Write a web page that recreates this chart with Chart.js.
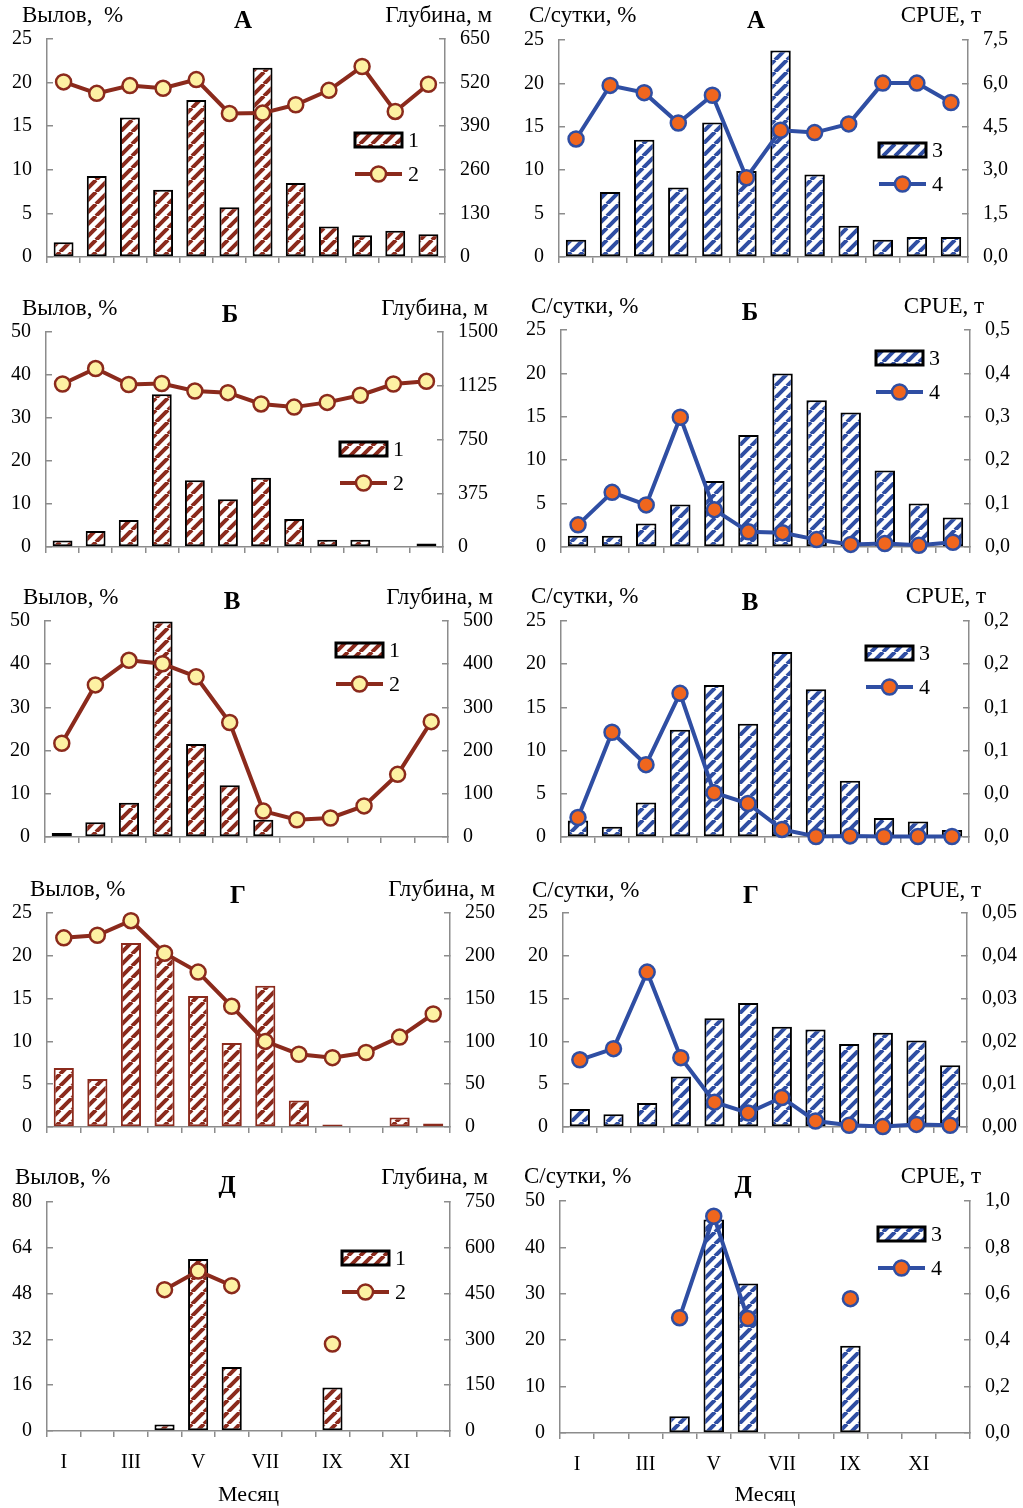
<!DOCTYPE html>
<html>
<head>
<meta charset="utf-8">
<script src="https://cdn.jsdelivr.net/npm/chart.js@4.4.1/dist/chart.umd.min.js"></script>
<style>
  body { margin: 0; background: #fff; }
  #wrap { position: relative; width: 1023px; height: 1508px; }
  #wrap canvas { position: absolute; }
</style>
</head>
<body>
<div id="wrap"></div>
<script>
const months = ['I', 'II', 'III', 'IV', 'V', 'VI', 'VII', 'VIII', 'IX', 'X', 'XI', 'XII'];

// А
const catchA = [1.7, 9.3, 16.0, 7.7, 18.0, 5.7, 21.7, 8.5, 3.5, 2.5, 3.0, 2.6];
const depthA = [522, 488, 511, 503, 529, 428, 429, 454, 497, 568, 434, 515];
const dailyA = [2.0, 7.5, 13.5, 8.0, 15.5, 9.9, 23.8, 9.5, 3.6, 2.0, 2.3, 2.3];
const cpueA = [4.08, 5.93, 5.68, 4.63, 5.59, 2.74, 4.38, 4.30, 4.60, 6.01, 6.01, 5.34];

// Б
const catchB = [1.5, 3.7, 6.3, 35.5, 15.5, 11.1, 16.1, 6.5, 1.7, 1.7, 0.2, 0.8];
const depthB = [1137, 1245, 1134, 1141, 1088, 1077, 998, 976, 1009, 1059, 1137, 1156];
const dailyB = [1.3, 1.3, 2.7, 4.9, 7.6, 12.9, 20.0, 16.9, 15.5, 8.8, 5.0, 3.4];
const cpueB = [0.051, 0.126, 0.097, 0.299, 0.086, 0.035, 0.033, 0.017, 0.006, 0.008, 0.004, 0.011];

// В
const catchV = [0.9, 3.4, 7.9, 49.9, 21.5, 12.0, 4.0, null, 0.2, null, null, null];
const depthV = [217, 352, 409, 401, 371, 265, 60, 40, 44, 72, 145, 267];
const dailyV = [1.9, 1.2, 4.0, 12.4, 17.6, 13.1, 21.4, 17.1, 6.5, 2.2, 1.8, 0.8];
const cpueV = [0.018, 0.097, 0.067, 0.133, 0.041, 0.031, 0.007, 0.0005, 0.001, 0.0005, 0.0005, 0.0005];

// Г
const catchG = [6.9, 5.6, 21.5, 19.9, 15.3, 9.8, 16.5, 3.1, 0.3, 0.1, 1.1, 0.4];
const depthG = [221, 224, 241, 203, 181, 141, 100, 85, 81, 87, 105, 132];
const dailyG = [2.1, 1.5, 2.8, 5.9, 12.7, 14.5, 11.7, 11.4, 9.7, 11.0, 10.1, 7.2];
const cpueG = [0.0157, 0.0183, 0.0362, 0.0162, 0.0058, 0.0033, 0.0069, 0.0014, 0.0004, 0.0001, 0.0006, 0.0004];

// Д
const catchD = [null, null, null, 2.3, 60.1, 22.4, null, null, 15.2, null, null, null];
const depthD = [null, null, null, 463, 524, 476, null, null, 285, null, null, null];
const dailyD = [null, null, null, 3.6, 46.0, 32.2, null, null, 18.8, null, null, null];
const cpueD = [null, null, null, 0.497, 0.934, 0.493, null, null, 0.579, null, null, null];

const DARK_RED = '#8b2a1c';
const BLUE = '#2f4ea3';
const YELLOW = '#fdf1a3';
const ORANGE = '#f0661e';
const AXIS = '#8c8c8c';
const FONT = "'Liberation Serif', 'DejaVu Serif', serif";

// pixel boxes: canvas [x, y, w, h], plot area [left, top, right, bottom]
const panels = [
  { kind: 'depth', canvas: [0, 0, 511, 290], area: [47, 39, 445, 266], letter: 'А', lt: 'Вылов,  %', rt: 'Глубина, м',
    ltPos: [22, 16], rtPos: [492, 16], letPos: [243, 22], bars: catchA, line: depthA,
    yMax: 25, yStep: 5, y1Max: 650, y1Step: 130, y1Dec: 0, legend: [355, 140], names: ['1', '2'], barBorder: '#000' },
  { kind: 'cpue', canvas: [511, 0, 512, 290], area: [559, 40, 968, 267], letter: 'А', lt: 'С/сутки, %', rt: 'CPUE, т',
    ltPos: [529, 16], rtPos: [981, 16], letPos: [756, 22], bars: dailyA, line: cpueA,
    yMax: 25, yStep: 5, y1Max: 7.5, y1Step: 1.5, y1Dec: 1, legend: [879, 150], names: ['3', '4'], barBorder: '#000' },

  { kind: 'depth', canvas: [0, 290, 511, 290], area: [46, 332, 443, 559], letter: 'Б', lt: 'Вылов, %', rt: 'Глубина, м',
    ltPos: [22, 309], rtPos: [488, 309], letPos: [230, 316], bars: catchB, line: depthB,
    yMax: 50, yStep: 10, y1Max: 1500, y1Step: 375, y1Dec: 0, legend: [340, 449], names: ['1', '2'], barBorder: '#000' },
  { kind: 'cpue', canvas: [511, 290, 512, 290], area: [561, 330, 970, 559], letter: 'Б', lt: 'С/сутки, %', rt: 'CPUE, т',
    ltPos: [531, 307], rtPos: [984, 307], letPos: [750, 314], bars: dailyB, line: cpueB,
    yMax: 25, yStep: 5, y1Max: 0.5, y1Step: 0.1, y1Dec: 1, legend: [876, 358], names: ['3', '4'], barBorder: '#000' },

  { kind: 'depth', canvas: [0, 580, 511, 290], area: [45, 621, 448, 850], letter: 'В', lt: 'Вылов, %', rt: 'Глубина, м',
    ltPos: [23, 598], rtPos: [493, 598], letPos: [232, 603], bars: catchV, line: depthV,
    yMax: 50, yStep: 10, y1Max: 500, y1Step: 100, y1Dec: 0, legend: [336, 650], names: ['1', '2'], barBorder: '#000' },
  { kind: 'cpue', canvas: [511, 580, 512, 290], area: [561, 621, 969, 852], letter: 'В', lt: 'С/сутки, %', rt: 'CPUE, т',
    ltPos: [531, 597], rtPos: [986, 597], letPos: [750, 604], bars: dailyV, line: cpueV,
    yMax: 25, yStep: 5, y1Max: 0.2, y1Step: 0.04, y1Dec: 1, legend: [866, 653], names: ['3', '4'], barBorder: '#000' },

  { kind: 'depth', canvas: [0, 870, 511, 290], area: [47, 913, 450, 1141], letter: 'Г', lt: 'Вылов, %', rt: 'Глубина, м',
    ltPos: [30, 890], rtPos: [495, 890], letPos: [238, 897], bars: catchG, line: depthG,
    yMax: 25, yStep: 5, y1Max: 250, y1Step: 50, y1Dec: 0, legend: null, names: ['1', '2'], barBorder: DARK_RED },
  { kind: 'cpue', canvas: [511, 870, 512, 290], area: [563, 913, 967, 1143], letter: 'Г', lt: 'С/сутки, %', rt: 'CPUE, т',
    ltPos: [532, 891], rtPos: [981, 891], letPos: [751, 897], bars: dailyG, line: cpueG,
    yMax: 25, yStep: 5, y1Max: 0.05, y1Step: 0.01, y1Dec: 2, legend: null, names: ['3', '4'], barBorder: '#000' },

  { kind: 'depth', canvas: [0, 1160, 511, 348], area: [47, 1202, 450, 1431], letter: 'Д', lt: 'Вылов, %', rt: 'Глубина, м',
    ltPos: [15, 1178], rtPos: [488, 1178], letPos: [227, 1187], bars: catchD, line: depthD,
    yMax: 80, yStep: 16, y1Max: 750, y1Step: 150, y1Dec: 0, legend: [342, 1258], names: ['1', '2'], barBorder: '#000', xLabels: true },
  { kind: 'cpue', canvas: [511, 1160, 512, 348], area: [560, 1201, 970, 1433], letter: 'Д', lt: 'С/сутки, %', rt: 'CPUE, т',
    ltPos: [524, 1177], rtPos: [981, 1177], letPos: [743, 1187], bars: dailyD, line: cpueD,
    yMax: 50, yStep: 10, y1Max: 1.0, y1Step: 0.2, y1Dec: 1, legend: [878, 1234], names: ['3', '4'], barBorder: '#000', xLabels: true }
];

function stripePattern(color) {
  // белый фон с косой штриховкой
  const size = 12;
  const c = document.createElement('canvas');
  c.width = size; c.height = size;
  const g = c.getContext('2d');
  g.fillStyle = '#fff';
  g.fillRect(0, 0, size, size);
  g.strokeStyle = color;
  g.lineWidth = 4;
  g.beginPath();
  for (let k = -1; k <= 1; k++) {
    g.moveTo(k * size, size);
    g.lineTo(k * size + size, 0);
  }
  g.stroke();
  return g.createPattern(c, 'repeat');
}

const wrap = document.getElementById('wrap');

function makeChart(p) {
  const [cx, cy, cw, ch] = p.canvas;
  const [l, t, r, b] = p.area;
  const cv = document.createElement('canvas');
  cv.width = cw; cv.height = ch;
  cv.style.left = cx + 'px';
  cv.style.top = cy + 'px';
  wrap.appendChild(cv);

  const main = p.kind === 'depth' ? DARK_RED : BLUE;
  const ptFill = p.kind === 'depth' ? YELLOW : ORANGE;
  const fill = stripePattern(main);
  const showX = !!p.xLabels;
  const tickFont = { family: FONT, size: 20 };

  const deco = {
    id: 'deco',
    afterDraw(chart) {
      const ctx = chart.ctx;
      ctx.save();
      ctx.fillStyle = '#000';
      ctx.textBaseline = 'middle';
      ctx.font = '23px ' + FONT;
      ctx.textAlign = 'left';
      ctx.fillText(p.lt, p.ltPos[0] - cx, p.ltPos[1] - cy);
      ctx.textAlign = 'right';
      ctx.fillText(p.rt, p.rtPos[0] - cx, p.rtPos[1] - cy);
      ctx.textAlign = 'center';
      ctx.font = 'bold 25px ' + FONT;
      ctx.fillText(p.letter, p.letPos[0] - cx, p.letPos[1] - cy);

      if (p.legend) {
        const lx = p.legend[0] - cx;
        const ly = p.legend[1] - cy;
        const ly2 = ly + 34;
        ctx.fillStyle = fill;
        ctx.fillRect(lx, ly - 7, 47, 14);
        ctx.strokeStyle = '#000';
        ctx.lineWidth = 3;
        ctx.strokeRect(lx, ly - 7, 47, 14);

        ctx.strokeStyle = main;
        ctx.lineWidth = 4;
        ctx.beginPath();
        ctx.moveTo(lx, ly2);
        ctx.lineTo(lx + 47, ly2);
        ctx.stroke();
        ctx.beginPath();
        ctx.arc(lx + 23.5, ly2, 7.5, 0, Math.PI * 2);
        ctx.fillStyle = ptFill;
        ctx.fill();
        ctx.lineWidth = 2.5;
        ctx.stroke();

        ctx.fillStyle = '#000';
        ctx.font = '22px ' + FONT;
        ctx.textAlign = 'left';
        ctx.fillText(p.names[0], lx + 53, ly + 1);
        ctx.fillText(p.names[1], lx + 53, ly2 + 1);
      }
      ctx.restore();
    }
  };

  return new Chart(cv, {
    type: 'bar',
    data: {
      labels: months,
      datasets: [
        {
          type: 'line',
          data: p.line,
          yAxisID: 'y1',
          borderColor: main,
          borderWidth: 4,
          pointRadius: 7.5,
          pointBorderWidth: 2.5,
          pointBackgroundColor: ptFill,
          pointBorderColor: main,
          tension: 0,
          clip: false,
          order: 0
        },
        {
          type: 'bar',
          data: p.bars,
          yAxisID: 'y',
          backgroundColor: fill,
          borderColor: p.barBorder,
          borderWidth: 2,
          borderSkipped: false,
          barPercentage: 0.6,
          categoryPercentage: 1,
          order: 1
        }
      ]
    },
    options: {
      responsive: false,
      animation: false,
      devicePixelRatio: 1,
      layout: { padding: { top: t - cy, left: 0, right: 0, bottom: 0 }, autoPadding: false },
      plugins: { legend: { display: false }, tooltip: { enabled: false } },
      scales: {
        x: {
          offset: true,
          grid: { offset: true, drawOnChartArea: false, color: AXIS, lineWidth: 1.5, tickLength: 6 },
          border: { color: AXIS, width: 1.5 },
          ticks: {
            display: showX, autoSkip: false, maxRotation: 0, padding: 14, color: '#000', font: tickFont,
            callback: (v, i) => (i % 2 === 0 ? months[i] : '')
          },
          title: { display: showX, text: 'Месяц', color: '#000', font: { family: FONT, size: 22 }, padding: { top: 0, bottom: 0 } },
          afterFit: s => { s.height = cy + ch - b; }
        },
        y: {
          position: 'left',
          min: 0, max: p.yMax,
          grid: { drawOnChartArea: false, color: AXIS, lineWidth: 1.5, tickLength: -6 },
          border: { color: AXIS, width: 1.5 },
          ticks: { stepSize: p.yStep, padding: 21, color: '#000', font: tickFont },
          afterFit: s => { s.width = l - cx; }
        },
        y1: {
          position: 'right',
          min: 0, max: p.y1Max,
          grid: { drawOnChartArea: false, color: AXIS, lineWidth: 1.5, tickLength: -6 },
          border: { color: AXIS, width: 1.5 },
          ticks: {
            stepSize: p.y1Step, padding: 21, color: '#000', font: tickFont,
            callback: v => v.toFixed(p.y1Dec).replace('.', ',')
          },
          afterFit: s => { s.width = cx + cw - r; }
        }
      }
    },
    plugins: [deco]
  });
}

panels.forEach(makeChart);
</script>
</body>
</html>
